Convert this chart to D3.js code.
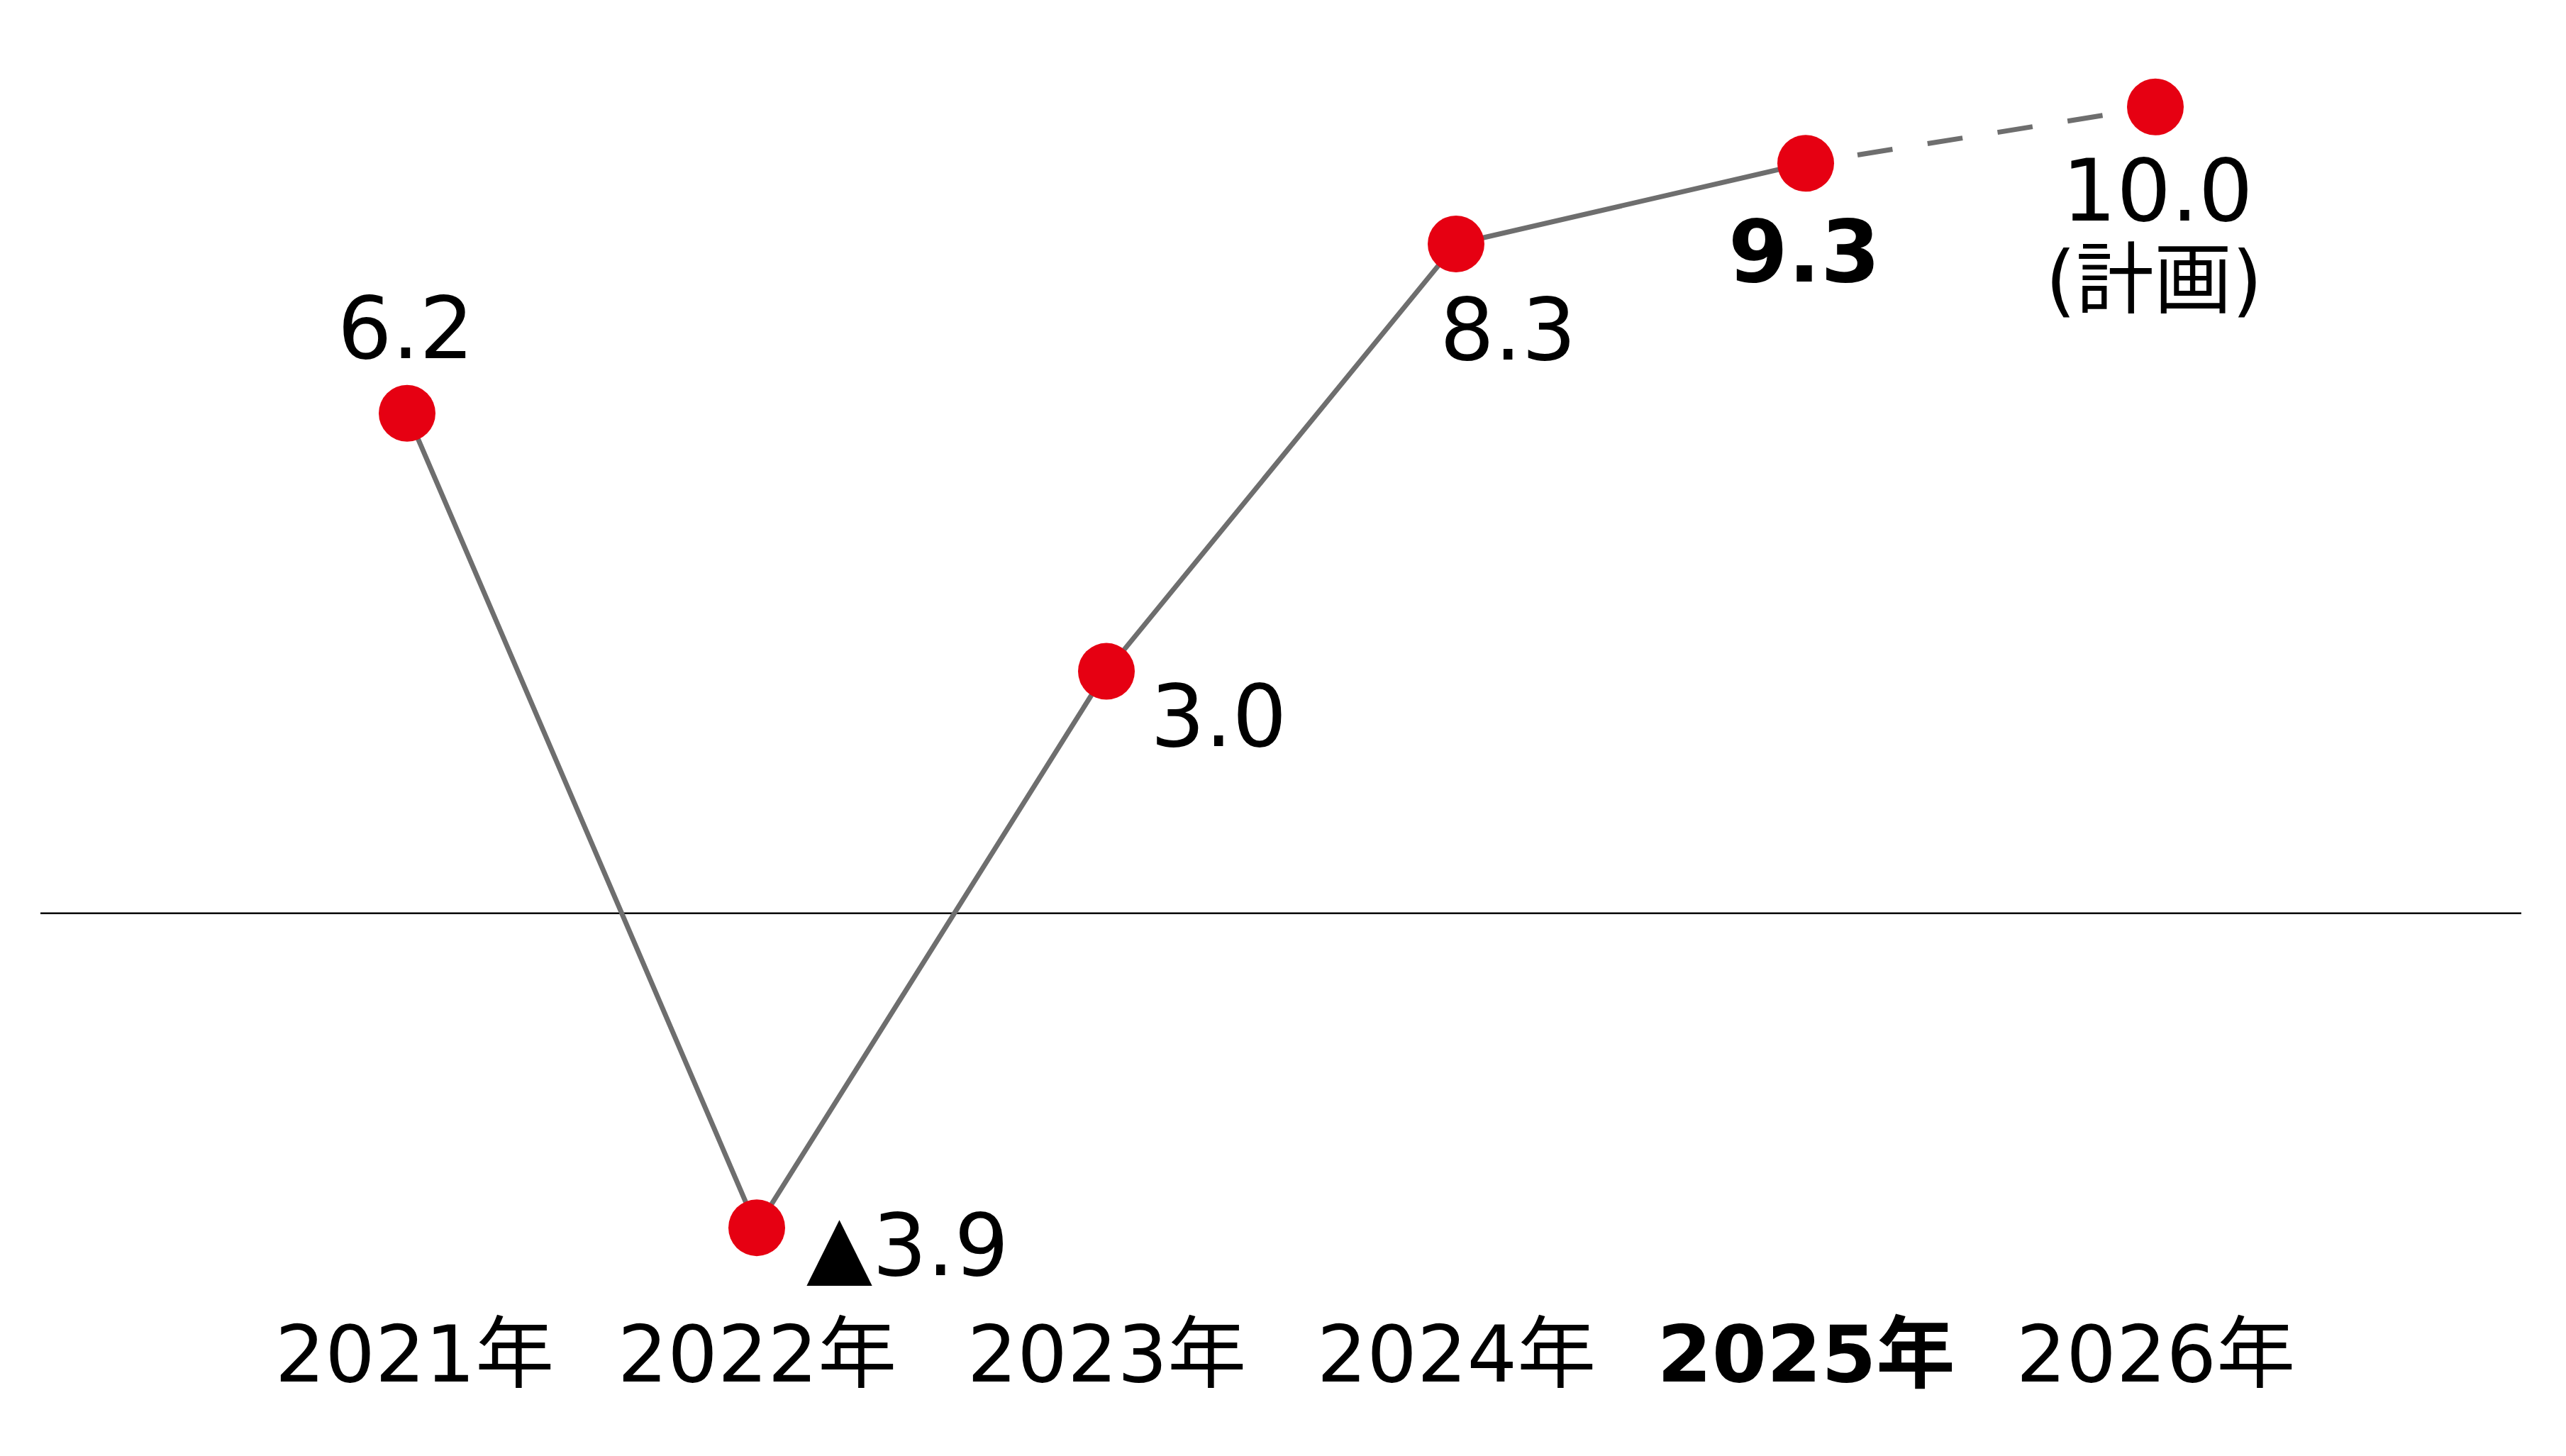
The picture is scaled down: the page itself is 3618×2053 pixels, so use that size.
<!DOCTYPE html>
<html>
<head>
<meta charset="utf-8">
<script src="https://cdn.jsdelivr.net/npm/d3@7"></script>
<style>
  html, body { margin: 0; padding: 0; background: #ffffff; }
  svg { display: block; }
</style>
</head>
<body>
<svg id="chart" width="3618" height="2053"></svg>
<script>
// ---- data ----
const years = ["2021年", "2022年", "2023年", "2024年", "2025年", "2026年"];
const values = [6.2, -3.9, 3.0, 8.3, 9.3, 10.0];
const isPlan = [false, false, false, false, false, true];
const notes = ["", "", "", "", "", "(計画)"];
const highlightYear = "2025年";

// ---- label placement (style, relative to each point) ----
const labelLayout = [
  { anchor: "middle", dx: -2,  dy: -78 },
  { anchor: "start",  dx: 70,  dy: 67 },
  { anchor: "start",  dx: 62,  dy: 105 },
  { anchor: "start",  dx: -23, dy: 163 },
  { anchor: "middle", dx: -2,  dy: 167 },
  { anchor: "middle", dx: 3,   dy: 160 }
];

const W = 3618, H = 2053;
const svg = d3.select("#chart");
svg.append("rect").attr("width", W).attr("height", H).attr("fill", "#ffffff");

const x = d3.scalePoint().domain(years).range([574, 3039]);
const y = d3.scaleLinear().domain([-5, 11]).range([1856.2, 37]);

const latinFont = "'DejaVu Sans', 'Noto Sans CJK JP', sans-serif";

const data = years.map((yr, i) => ({ year: yr, value: values[i], plan: isPlan[i], note: notes[i], i }));

// zero line
svg.append("line")
  .attr("x1", 57).attr("x2", 3555)
  .attr("y1", y(0)).attr("y2", y(0))
  .attr("stroke", "#000").attr("stroke-width", 2.6);

const line = d3.line().x(d => x(d.year)).y(d => y(d.value));

const actual = data.filter(d => !d.plan);
const lastActual = actual[actual.length - 1];
const planned = [lastActual].concat(data.filter(d => d.plan));

svg.append("path")
  .attr("d", line(actual))
  .attr("fill", "none")
  .attr("stroke", "#6e6e6e")
  .attr("stroke-width", 7)
  .attr("stroke-linejoin", "round");

svg.append("path")
  .attr("d", line(planned))
  .attr("fill", "none")
  .attr("stroke", "#6e6e6e")
  .attr("stroke-width", 7)
  .attr("stroke-dasharray", "50 50")
  .attr("stroke-dashoffset", 26);

// points
svg.append("g").selectAll("circle").data(data).join("circle")
  .attr("cx", d => x(d.year))
  .attr("cy", d => y(d.value))
  .attr("r", 40)
  .attr("fill", "#e60012");

// value labels
const fmt = v => v < 0 ? "▲" + Math.abs(v).toFixed(1) : v.toFixed(1);
const labels = svg.append("g");
data.forEach(d => {
  const L = labelLayout[d.i];
  const bx = x(d.year) + L.dx, by = y(d.value) + L.dy;
  labels.append("text")
    .attr("x", bx).attr("y", by)
    .attr("text-anchor", L.anchor)
    .attr("font-family", latinFont)
    .attr("font-size", 121)
    .attr("font-weight", d.year === highlightYear ? "bold" : "normal")
    .attr("fill", "#000")
    .text(fmt(d.value));
  if (d.note) {
    labels.append("text")
      .attr("x", bx - 5).attr("y", by + 122)
      .attr("text-anchor", "middle")
      .attr("font-family", latinFont)
      .attr("font-size", 110)
      .attr("fill", "#000")
      .text(d.note);
  }
});

// x axis labels
const ax = svg.append("g").call(d3.axisBottom(x).tickSize(0));
ax.select(".domain").remove();
ax.selectAll("text")
  .attr("y", 1948)
  .attr("dy", null)
  .attr("dx", (d, i) => i === 0 ? 10 : 0)
  .attr("font-family", latinFont)
  .attr("font-size", 111)
  .attr("font-weight", d => d === highlightYear ? "bold" : "normal")
  .attr("fill", "#000");
</script>
</body>
</html>
